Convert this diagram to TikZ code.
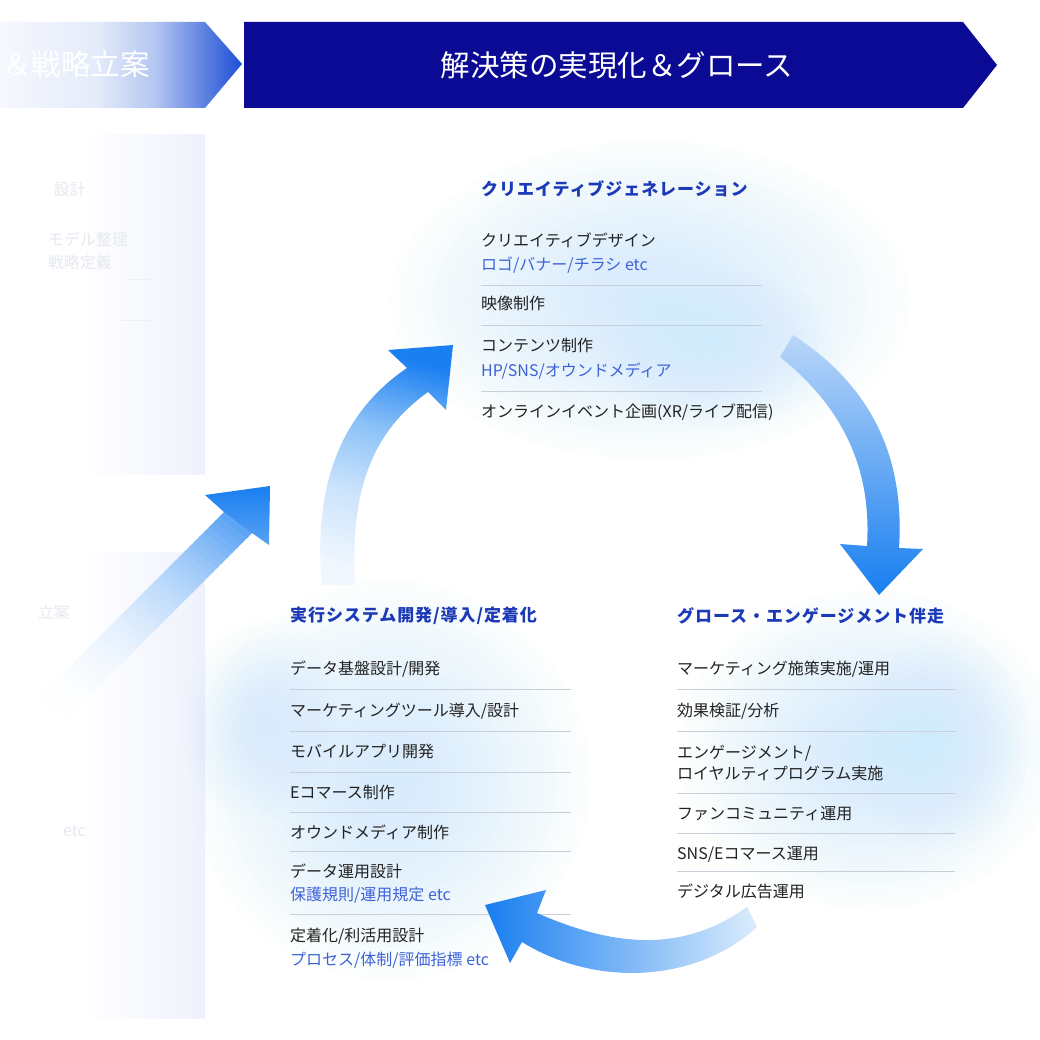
\documentclass[tikz,border=0pt]{standalone}
\usepackage{fontspec}
\setmainfont{Noto Sans CJK JP}
\definecolor{navy}{RGB}{10,10,148}
\definecolor{ttlblue}{RGB}{28,58,184}
\definecolor{subblue}{RGB}{62,98,214}
\definecolor{bodytext}{RGB}{34,34,34}
\definecolor{sepgray}{RGB}{200,207,218}
\definecolor{glowc}{RGB}{196,236,252}
\definecolor{panelc}{RGB}{239,242,253}
\definecolor{faint}{RGB}{230,233,240}
\definecolor{faintline}{RGB}{238,240,246}
\definecolor{arrblue}{RGB}{24,126,240}
\definecolor{arrpaleB}{RGB}{185,214,248}
\definecolor{arrpaleC}{RGB}{220,236,252}
\definecolor{aA0}{RGB}{240,247,254}
\definecolor{aA1}{RGB}{205,228,252}
\definecolor{aA2}{RGB}{140,194,247}
\definecolor{aA3}{RGB}{26,127,240}
\definecolor{bnW}{RGB}{246,248,254}
\definecolor{bnA}{RGB}{228,235,250}
\definecolor{bnB}{RGB}{180,199,240}
\definecolor{bnC}{RGB}{95,131,226}
\definecolor{bnD}{RGB}{30,78,214}
\pgfdeclarehorizontalshading{bannerfade}{100bp}{color(0bp)=(bnW); color(25bp)=(bnW); color(45bp)=(bnA); color(57bp)=(bnB); color(67bp)=(bnC); color(75bp)=(bnD); color(100bp)=(bnD)}
\pgfdeclarehorizontalshading{panelfade}{100bp}{color(0bp)=(white); color(25bp)=(white); color(45bp)=(white); color(75bp)=(panelc); color(100bp)=(panelc)}
\pgfdeclareverticalshading{arrowonefade}{100bp}{color(0bp)=(aA0); color(25bp)=(aA0); color(42bp)=(aA1); color(58bp)=(aA2); color(75bp)=(aA3); color(100bp)=(aA3)}
\tikzset{
  body/.style={anchor=base west, inner sep=0pt, text=bodytext, font=\fontsize{16}{19}\selectfont},
  sub/.style={body, text=subblue},
  ttl/.style={anchor=base west, inner sep=0pt, text=ttlblue, font=\fontsize{17}{20}\selectfont\bfseries\addfontfeatures{LetterSpace=5.5}},
  faintxt/.style={anchor=base east, inner sep=0pt, text=faint, font=\fontsize{16}{19}\selectfont},
  sepline/.style={draw=sepgray, line width=1pt},
  bantext/.style={inner sep=0pt, text=white, font=\fontsize{29.5}{32}\selectfont},
}
\begin{document}
\begin{tikzpicture}[x=1pt,y=-1pt]
\useasboundingbox (0,0) rectangle (1040,1040);
\fill[white] (0,0) rectangle (1040,1040);

% left faded panels
\shade[shading=panelfade] (0,135) rectangle (205,474);
\shade[shading=panelfade] (0,552) rectangle (205,1018);

% faint left texts
\node[faintxt] (f1) at (86,196) {設計};
\node[faintxt] (f2) at (128,246) {モデル整理};
\node[faintxt] (f3) at (112,269) {戦略定義};
\node[faintxt] (f4) at (70,618) {立案};
\node[faintxt] (f5) at (72,708) {設計};
\node[faintxt] (f6) at (86,836) {etc};
\draw[draw=faintline, line width=1pt] (128,280) -- (152,280);
\draw[draw=faintline, line width=1pt] (120,320) -- (152,320);

% glows
\foreach \k in {1,...,24} {
  \fill[glowc, opacity=0.035] (650,300) ellipse [x radius={260*\k/24}, y radius={160*\k/24}];
  \fill[glowc, opacity=0.035] (390,780) ellipse [x radius={200*\k/24}, y radius={200*\k/24}];
  \fill[glowc, opacity=0.035] (870,750) ellipse [x radius={190*\k/24}, y radius={160*\k/24}];
}
\foreach \k in {1,...,16} {
  \fill[glowc, opacity=0.03] (720,350) ellipse [x radius={120*\k/16}, y radius={80*\k/16}];
  \fill[glowc, opacity=0.03] (260,720) ellipse [x radius={80*\k/16}, y radius={100*\k/16}];
  \fill[glowc, opacity=0.03] (940,740) ellipse [x radius={90*\k/16}, y radius={110*\k/16}];
}

% banners
\shade[shading=bannerfade] (0,22) -- (205,22) -- (242,64) -- (205,108) -- (0,108) -- cycle;
\node[bantext, anchor=base east] (bl) at (150,76) {＆戦略立案};
\fill[navy] (244,22) -- (963,22) -- (997,65) -- (963,108) -- (244,108) -- cycle;
\node[bantext] (br) at (617,65) {解決策の実現化＆グロース};

% top section
\node[ttl] (t0) at (481,195.5) {クリエイティブジェネレーション};
\node[body] (t1) at (481,247) {クリエイティブデザイン};
\node[sub] (t1s) at (481,271) {ロゴ/バナー/チラシ etc};
\draw[sepline] (481,286) -- (762,286);
\node[body] (t2) at (481,309) {映像制作};
\draw[sepline] (481,325) -- (762,325);
\node[body] (t3) at (481,351) {コンテンツ制作};
\node[sub] (t3s) at (481,376) {HP/SNS/オウンドメディア};
\draw[sepline] (481,391) -- (762,391);
\node[body] (t4) at (481,417) {オンラインイベント企画(XR/ライブ配信)};

% bottom-left section
\node[ttl] (l0) at (290,621.5) {実行システム開発/導入/定着化};
\node[body] (l1) at (290,674) {データ基盤設計/開発};
\draw[sepline] (290,689) -- (571,689);
\node[body] (l2) at (290,716) {マーケティングツール導入/設計};
\draw[sepline] (290,731) -- (571,731);
\node[body] (l3) at (290,757) {モバイルアプリ開発};
\draw[sepline] (290,772) -- (571,772);
\node[body] (l4) at (290,798) {Eコマース制作};
\draw[sepline] (290,812) -- (571,812);
\node[body] (l5) at (290,838) {オウンドメディア制作};
\draw[sepline] (290,851) -- (571,851);
\node[body] (l6) at (290,877) {データ運用設計};
\node[sub] (l6s) at (290,900) {保護規則/運用規定 etc};
\draw[sepline] (290,914) -- (571,914);
\node[body] (l7) at (290,941) {定着化/利活用設計};
\node[sub] (l7s) at (290,965) {プロセス/体制/評価指標 etc};

% bottom-right section
\node[ttl] (r0) at (677,622.5) {グロース・エンゲージメント伴走};
\node[body] (r1) at (677,674) {マーケティング施策実施/運用};
\draw[sepline] (677,689) -- (955,689);
\node[body] (r2) at (677,716) {効果検証/分析};
\draw[sepline] (677,731) -- (955,731);
\node[body] (r3) at (677,758) {エンゲージメント/};
\node[body] (r3b) at (677,779) {ロイヤルティプログラム実施};
\draw[sepline] (677,793) -- (955,793);
\node[body] (r4) at (677,819) {ファンコミュニティ運用};
\draw[sepline] (677,833) -- (955,833);
\node[body] (r5) at (677,859) {SNS/Eコマース運用};
\draw[sepline] (677,871) -- (955,871);
\node[body] (r6) at (677,897) {デジタル広告運用};

% diagonal arrow: shaft in strips fading out towards lower left
\foreach \i in {0,...,39} {
  \pgfmathsetmacro{\sa}{\i/40}
  \pgfmathsetmacro{\sb}{(\i+1.3)/40}
  \pgfmathsetmacro{\pc}{72*((\i+0.5)/40)^2.2}
  \fill[arrblue!\pc!white]
    ({24+200*\sa},{712-200*\sa}) -- ({24+200*\sb},{712-200*\sb})
    -- ({52+200*\sb},{733-200*\sb}) -- ({52+200*\sa},{733-200*\sa}) -- cycle;
}
\shade[top color=arrblue, bottom color=arrblue!72!white]
  (224,512) -- (205,495) -- (270,486) -- (269,545) -- (252,533) -- cycle;

% arrow 1 (left, upward)
\shade[shading=arrowonefade, shading angle=-15]
  (322,585) .. controls (312,480) and (345,410) .. (407,368) -- (388,350) -- (453,345)
  -- (446,410) -- (428,392) .. controls (372,432) and (350,490) .. (355,585) -- cycle;

% arrow 2 (right, downward)
\shade[top color=arrpaleB, bottom color=arrblue]
  (793,335) .. controls (870,385) and (905,455) .. (899,548) -- (923,549) -- (879,595)
  -- (840,544) -- (867,546) .. controls (872,465) and (840,405) .. (780,357) -- cycle;

% arrow 3 (bottom, leftward)
\shade[left color=arrblue, right color=arrpaleC]
  (747,907) .. controls (680,955) and (610,945) .. (537,913) -- (546,890) -- (485,905)
  -- (510,963) -- (522,942) .. controls (600,990) and (700,980) .. (757,927) -- cycle;
\end{tikzpicture}
\end{document}
